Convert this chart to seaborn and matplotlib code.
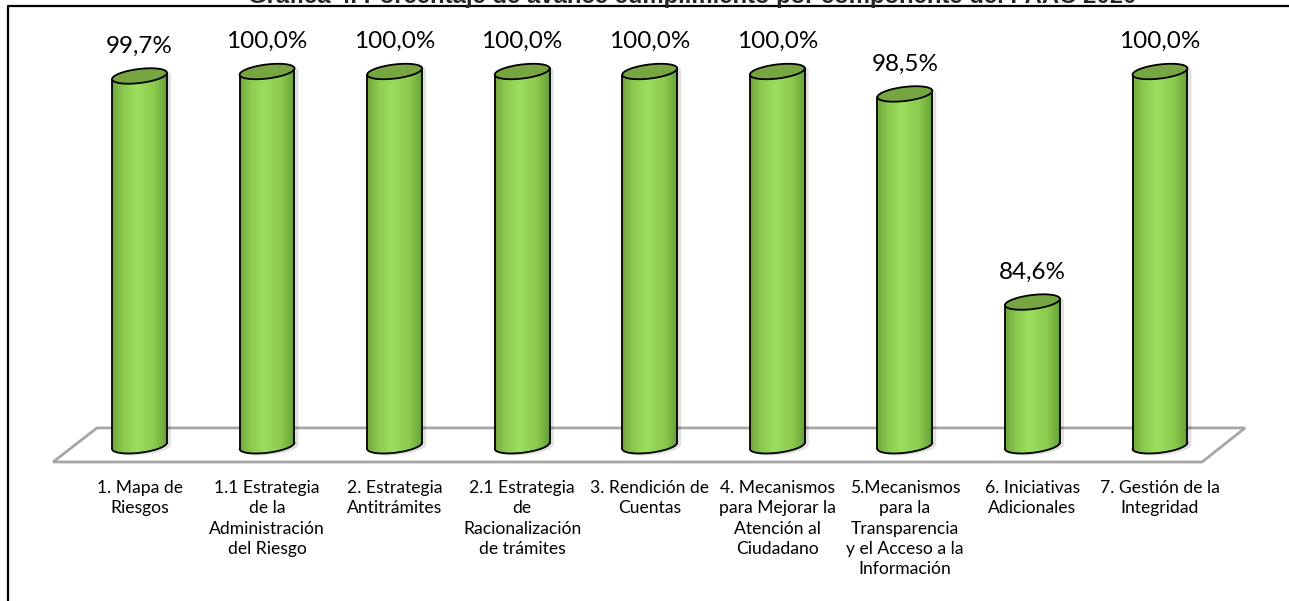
import numpy as np
import matplotlib
matplotlib.use("Agg")
import matplotlib.pyplot as plt
import seaborn as sns
import pandas as pd
from matplotlib.patches import PathPatch, Polygon
from matplotlib.path import Path
from matplotlib.colors import LinearSegmentedColormap
from matplotlib.lines import Line2D

# ---------------- data ----------------
categories = [
    "1. Mapa de Riesgos",
    "1.1 Estrategia de la Administración del Riesgo",
    "2. Estrategia Antitrámites",
    "2.1 Estrategia de Racionalización de trámites",
    "3. Rendición de Cuentas",
    "4. Mecanismos para Mejorar la Atención al Ciudadano",
    "5.Mecanismos para la Transparencia y el Acceso a la Información",
    "6. Iniciativas Adicionales",
    "7. Gestión de la Integridad",
]
values = [99.7, 100.0, 100.0, 100.0, 100.0, 100.0, 98.5, 84.6, 100.0]
tick_labels = [
    "1. Mapa de\nRiesgos",
    "1.1 Estrategia\nde la\nAdministración\ndel Riesgo",
    "2. Estrategia\nAntitrámites",
    "2.1 Estrategia\nde\nRacionalización\nde trámites",
    "3. Rendición de\nCuentas",
    "4. Mecanismos\npara Mejorar la\nAtención al\nCiudadano",
    "5.Mecanismos\npara la\nTransparencia\ny el Acceso a la\nInformación",
    "6. Iniciativas\nAdicionales",
    "7. Gestión de la\nIntegridad",
]
title = "Gráfica 4. Porcentaje de avance cumplimiento por componente del PAAC 2020"
axis_min = 75.0

# ---------------- style / layout ----------------
W, H = 1289, 601
sns.set_theme(style="white")
plt.rcParams["font.family"] = ["Lato", "DejaVu Sans"]

fig = plt.figure(figsize=(W / 100, H / 100), dpi=100)
fig.patch.set_facecolor("white")

AX_BOTTOM_PX = 470
ax = fig.add_axes([0, (H - AX_BOTTOM_PX) / H, 1, AX_BOTTOM_PX / H])
ax.set_facecolor("none")

df = pd.DataFrame({"componente": categories, "avance": values})
sns.barplot(data=df, x="componente", y="avance", ax=ax, width=0.43,
            color="#8CC94F", saturation=1, edgecolor="none", zorder=3)
bars = list(ax.patches)

XLIM = (-1.0936, 9.0114)
YLIM = (73.38, 104.776)
ax.set_xlim(*XLIM)
ax.set_ylim(*YLIM)
for s in ax.spines.values():
    s.set_visible(False)
ax.set_yticks([])
ax.set_xlabel("")
ax.set_ylabel("")
ax.set_xticks(range(len(tick_labels)))
ax.set_xticklabels(tick_labels, fontsize=12.6, linespacing=1.34, color="black")
ax.tick_params(axis="x", length=0, pad=7)

# pixel scale of data units
fig.canvas.draw()
p0 = ax.transData.transform((0, 0))
p1 = ax.transData.transform((1, 1))
sx, sy = p1[0] - p0[0], p1[1] - p0[1]

# floor (3-D plot floor)
floor = Polygon([(-0.678, 73.915), (8.33, 73.915), (8.667, 76.19), (-0.333, 76.19)],
                closed=True, facecolor="white", edgecolor="#A6A6A6", lw=2.0, zorder=1)
ax.add_patch(floor)

cmap = LinearSegmentedColormap.from_list(
    "cyl", [(0.0, "#6FA33B"), (0.22, "#8CCB50"), (0.45, "#9CDE5E"),
            (0.75, "#8BCB4E"), (1.0, "#659A35")])
CAP_COLOR = "#76A541"
B_PX = 7.0
THETA = np.deg2rad(7.0)


def ellipse_pts(t, a, b):
    x = a * np.cos(t) * np.cos(THETA) - b * np.sin(t) * np.sin(THETA)
    y = a * np.cos(t) * np.sin(THETA) + b * np.sin(t) * np.cos(THETA)
    return x, y


for bar, v in zip(bars, values):
    cx = bar.get_x() + bar.get_width() / 2
    hw_px = bar.get_width() / 2 * sx
    a = np.sqrt((hw_px ** 2 - B_PX ** 2 * np.sin(THETA) ** 2) / np.cos(THETA) ** 2)
    t0 = np.arctan(-(B_PX * np.tan(THETA)) / a)
    lower = np.linspace(t0 + np.pi, t0 + 2 * np.pi, 80)
    upper = np.linspace(t0, t0 + np.pi, 80)
    full = np.linspace(0, 2 * np.pi, 160)

    def to_data(dx, dy, base):
        return cx + dx / sx, base + dy / sy

    bx, by = to_data(*ellipse_pts(lower, a, B_PX), axis_min)
    tx, ty = to_data(*ellipse_pts(upper, a, B_PX), v)
    body = np.vstack([np.column_stack([bx, by]), np.column_stack([tx, ty])])
    body_patch = PathPatch(Path(np.vstack([body, body[:1]]), closed=True),
                           transform=ax.transData, facecolor="none", edgecolor="none")
    ax.add_patch(body_patch)

    # soft shadow
    sh = Polygon(body + np.array([4 / sx, -2 / sy]), closed=True, facecolor="#000000",
                 alpha=0.12, edgecolor="none", zorder=2)
    ax.add_patch(sh)

    bar.set_clip_path(body_patch)
    grad = np.linspace(0, 1, 256)[None, :]
    im = ax.imshow(grad, cmap=cmap, aspect="auto", origin="lower",
                   extent=[cx - bar.get_width() / 2 - 0.01, cx + bar.get_width() / 2 + 0.01,
                           axis_min - 1.5, v + 1.5],
                   interpolation="bilinear", zorder=3.5)
    im.set_clip_path(body_patch)

    # outline: sides + bottom arc
    ax.plot(bx, by, color="black", lw=1.3, zorder=5, solid_capstyle="round")
    ax.plot([bx[0], tx[-1]], [by[0], ty[-1]], color="black", lw=1.3, zorder=5)
    ax.plot([bx[-1], tx[0]], [by[-1], ty[0]], color="black", lw=1.3, zorder=5)

    # top cap
    cxp, cyp = to_data(*ellipse_pts(full, a, B_PX), v)
    cap = Polygon(np.column_stack([cxp, cyp]), closed=True, facecolor=CAP_COLOR,
                  edgecolor="black", lw=1.3, zorder=6)
    ax.add_patch(cap)

    # value label
    lbl = f"{v:.1f}".replace(".", ",") + "%"
    ax.text(cx, v + 30 / sy, lbl, ha="center", va="center", fontsize=17.5,
            color="black", zorder=7)

ax.set_xlim(*XLIM)
ax.set_ylim(*YLIM)

# frame (chart area border) and title clipped at the top edge as in the source
fig.add_artist(Line2D([8 / W, 8 / W, 1.0], [0.0, 1 - 6 / H, 1 - 6 / H],
                      transform=fig.transFigure, color="black", lw=1.6))
ttl = fig.text(692 / W, 1 - 3.2 / H, title, ha="center", va="baseline",
               fontweight="bold", fontsize=14, family=["Liberation Sans", "DejaVu Sans"])
r = fig.canvas.get_renderer()
w = ttl.get_window_extent(r).width
ttl.set_fontsize(14 * 889 / w)

fig.savefig("out.png", dpi=100, facecolor="white")
